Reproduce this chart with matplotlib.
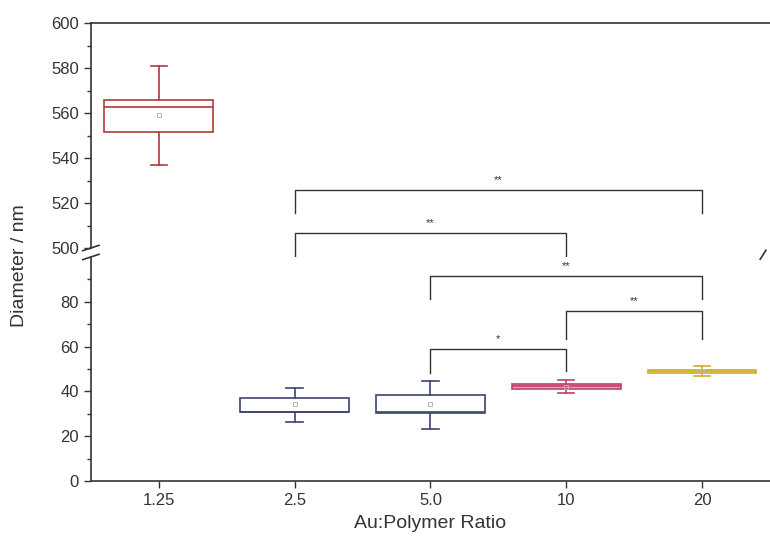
import matplotlib.pyplot as plt
import numpy as np

plt.rcParams['font.family'] = ['Liberation Sans', 'DejaVu Sans']

# Data
ratios = ["1.25", "2.5", "5.0", "10", "20"]
whis_lo = [537, 26.2, 23.1, 39.2, 46.7]
q1 = [551.5, 30.8, 30.2, 41.2, 48.1]
median = [562.5, 31.0, 31.0, 42.3, 48.9]
q3 = [566.0, 37.2, 38.2, 43.4, 49.6]
whis_hi = [581, 41.6, 44.7, 45.3, 51.2]
means = [559, 34.2, 34.2, 42.0, 49.0]

edge_colors = ["#b03a3a", "#3d4470", "#3d4470", "#c0406a", "#cfae2e"]
face_colors = ["none", "none", "none", "#e9a3bb", "#f1e2a0"]

# significance brackets: (left idx, right idx, bar y, left leg y, right leg y, label, axis)
brackets = [
    (1, 4, 525.8, 515.6, 515.6, "**", "top"),
    (1, 3, 506.7, 496.0, 496.0, "**", "top"),
    (2, 4, 91.6, 81.3, 81.3, "**", "bottom"),
    (3, 4, 76.0, 63.6, 63.6, "**", "bottom"),
    (2, 3, 59.1, 48.4, 49.3, "*", "bottom"),
]

fig = plt.figure(figsize=(7.7, 5.53), dpi=100)
ax_top = fig.add_axes([0.118, 0.5515, 0.882, 0.4069])
ax_bot = fig.add_axes([0.118, 0.1302, 0.882, 0.4051])

stats = []
for i in range(len(ratios)):
    stats.append(dict(med=median[i], q1=q1[i], q3=q3[i], whislo=whis_lo[i],
                      whishi=whis_hi[i], mean=means[i], fliers=[]))

pos = np.arange(1, len(ratios) + 1)
for ax in (ax_top, ax_bot):
    for i, s in enumerate(stats):
        c = edge_colors[i]
        ax.bxp([s], positions=[pos[i]], widths=0.8, showmeans=True,
               patch_artist=True, showfliers=False,
               boxprops=dict(facecolor=face_colors[i], edgecolor=c, linewidth=1.2),
               medianprops=dict(color=c, linewidth=1.2),
               whiskerprops=dict(color=c, linewidth=1.2),
               capprops=dict(color=c, linewidth=1.2),
               capwidths=0.12,
               meanprops=dict(marker="s", markersize=3.5, markerfacecolor="none",
                              markeredgecolor="#b8b8b8", markeredgewidth=0.7))
    ax.set_xlim(0.5, 5.5)
    ax.spines["right"].set_visible(False)
    ax.tick_params(axis="y", direction="out", length=5, width=1, colors="#333333",
                   labelsize=12, labelcolor="#333333")
    ax.tick_params(axis="y", which="minor", direction="out", length=3, width=1,
                   colors="#333333")
    for sp in ax.spines.values():
        sp.set_color("#333333")
        sp.set_linewidth(1.2)

ax_top.set_ylim(500, 600)
ax_top.set_yticks([500, 520, 540, 560, 580, 600])
ax_top.set_yticks(np.arange(510, 600, 20), minor=True)
ax_top.spines["bottom"].set_visible(False)
ax_top.set_xticks([])

ax_bot.set_ylim(0, 100)
ax_bot.set_yticks([0, 20, 40, 60, 80])
ax_bot.set_yticks([10, 30, 50, 70, 90], minor=True)
ax_bot.spines["top"].set_visible(False)
ax_bot.set_xticks(pos)
ax_bot.set_xticklabels(ratios)
ax_bot.tick_params(axis="x", direction="out", length=5, width=1, colors="#333333",
                   labelsize=12, labelcolor="#333333")

# break marks
kw = dict(color="#333333", linewidth=1.2, clip_on=False)
d = 0.012
ax_top.plot([-d, d], [-0.012, 0.012], transform=ax_top.transAxes, **kw)
ax_bot.plot([-d, d], [0.988, 1.012], transform=ax_bot.transAxes, **kw)
ax_bot.plot([1 - 1.2 * d, 1 - d / 2], [0.99, 1.03], transform=ax_bot.transAxes, **kw)

# significance brackets
for li, ri, yb, yl, yr, lab, which in brackets:
    ax = ax_top if which == "top" else ax_bot
    x1, x2 = pos[li], pos[ri]
    ax.plot([x1, x1, x2, x2], [yl, yb, yb, yr], color="#333333", linewidth=1.0,
            clip_on=False)
    ax.text((x1 + x2) / 2, yb + 2.0, lab, ha="center", va="bottom", fontsize=8,
            color="#333333")

fig.text(0.025, 0.52, "Diameter / nm", rotation=90, ha="center", va="center",
         fontsize=14, color="#333333")
fig.text(0.559, 0.054, "Au:Polymer Ratio", ha="center", va="center",
         fontsize=14, color="#333333")

fig.savefig("out.png", dpi=100)
